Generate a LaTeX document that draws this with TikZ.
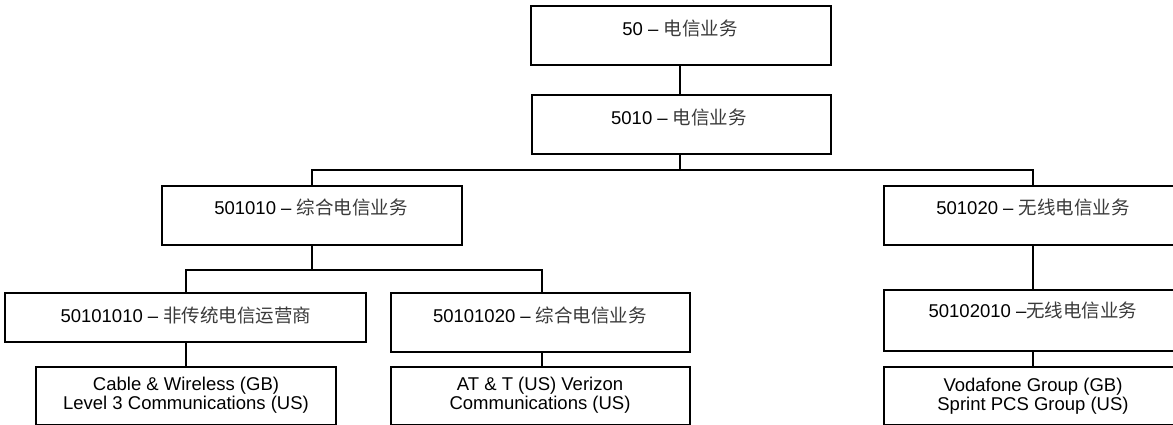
\documentclass[tikz,border=0pt]{standalone}
\usepackage{fontspec}
\setmainfont{Liberation Sans}
\newfontfamily\cjk{Noto Sans CJK SC}
\definecolor{cjkgray}{HTML}{3A3A3A}
\newcommand{\zh}[1]{{\cjk\color{cjkgray}#1}}
\begin{document}
\begin{tikzpicture}[x=1pt,y=-1pt,
  box/.style={draw=black,line width=2.6pt,rectangle,inner sep=0pt,fill=white},
  lbl/.style={inner sep=0pt,align=center,font=\fontsize{18.5}{18.6}\selectfont},
  conn/.style={draw=black,line width=2.6pt}]
\useasboundingbox (0,0) rectangle (1173,425);
\clip (0,0) rectangle (1173,425);
% boxes: centre, width, height
\node[box,minimum width=300pt,minimum height=59pt] (b1) at (681,35.5) {};
\node[box,minimum width=299pt,minimum height=59pt] (b2) at (681.5,124.5) {};
\node[box,minimum width=300pt,minimum height=59pt] (b3) at (312,215.5) {};
\node[box,minimum width=298pt,minimum height=59pt] (b4) at (1033,215.5) {};
\node[box,minimum width=361pt,minimum height=49pt] (b5) at (185.5,317.5) {};
\node[box,minimum width=299pt,minimum height=59pt] (b6) at (540.5,322.5) {};
\node[box,minimum width=298pt,minimum height=61pt] (b7) at (1033,320.5) {};
\node[box,minimum width=300pt,minimum height=58pt] (b8) at (186,396) {};
\node[box,minimum width=299pt,minimum height=58pt] (b9) at (540.5,396) {};
\node[box,minimum width=298pt,minimum height=58pt] (b10) at (1033,396) {};
% texts
\node[lbl] (t1) at (680,28) {50 – \zh{电信业务}};
\node[lbl] (t2) at (679,117) {5010 – \zh{电信业务}};
\node[lbl] (t3) at (311,207) {501010 – \zh{综合电信业务}};
\node[lbl] (t4) at (1033,207) {501020 – \zh{无线电信业务}};
\node[lbl] (t5) at (186,315) {50101010 – \zh{非传统电信运营商}};
\node[lbl] (t6) at (540,315) {50101020 – \zh{综合电信业务}};
\node[lbl] (t7) at (1033,310) {50102010 –\zh{无线电信业务}};
\node[lbl] (t8) at (186,395) {Cable \& Wireless (GB)\\Level 3 Communications (US)};
\node[lbl] (t9) at (540,395) {AT \& T (US) Verizon\\Communications (US)};
\node[lbl] (t10) at (1033,396) {Vodafone Group (GB)\\Sprint PCS Group (US)};
% connectors
\coordinate (j1) at (680,170);
\coordinate (j2) at (312,270);
\draw[conn] (b1.south -| j1) -- (b2.north -| j1);
\draw[conn] (b2.south -| j1) -- (j1);
\draw[conn] (b3.north) |- (j1) -| (b4.north);
\draw[conn] (b3.south -| j2) -- (j2);
\draw[conn] (b5.north -| b8.north) |- (j2) -| (b6.north -| 542,0);
\draw[conn] (b5.south -| b8.north) -- (b8.north);
\draw[conn] (b6.south -| 542,0) -- (b9.north -| 542,0);
\draw[conn] (b4.south) -- (b7.north);
\draw[conn] (b7.south) -- (b10.north);
\end{tikzpicture}
\end{document}
